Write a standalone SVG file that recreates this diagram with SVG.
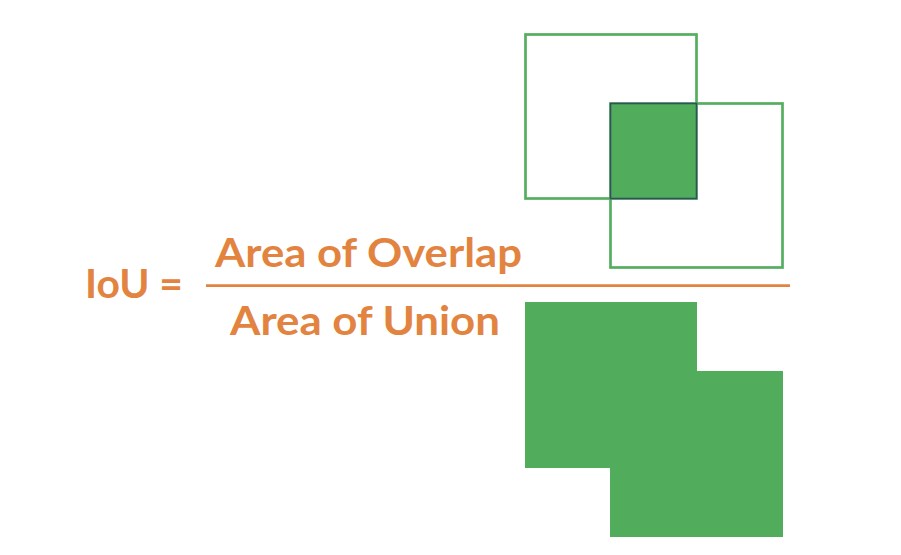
<svg xmlns="http://www.w3.org/2000/svg" width="901" height="555" viewBox="0 0 901 555">
<style>
.t{font-family:Lato,"Open Sans","Liberation Sans",sans-serif;font-weight:bold;font-size:40px;fill:#E2843F}
.box{fill:none;stroke:#55AE60;stroke-width:2.7}
.g{fill:#51AD5C}
</style>
<rect width="901" height="555" fill="#ffffff"/>
<g id="boxes">
<rect class="box" x="525.5" y="34.5" width="171" height="164"/>
<rect class="box" x="610.5" y="103.5" width="172" height="164"/>
<rect class="g" x="610.5" y="103.5" width="86" height="95" stroke="#34505F" stroke-width="1.6"/>
</g>
<g id="union">
<path class="g" d="M525,302 H697 V371 H783 V537 H610 V468 H525 Z"/>
</g>
<g id="formula">
<text class="t" x="85" y="298" textLength="98" lengthAdjust="spacingAndGlyphs">IoU =</text>
<text class="t" x="215" y="267" textLength="307" lengthAdjust="spacingAndGlyphs">Area of Overlap</text>
<line x1="206" y1="285.7" x2="790" y2="285.7" stroke="#E2843F" stroke-width="2.7"/>
<text class="t" x="230" y="334.5" textLength="270" lengthAdjust="spacingAndGlyphs">Area of Union</text>
</g>
</svg>
